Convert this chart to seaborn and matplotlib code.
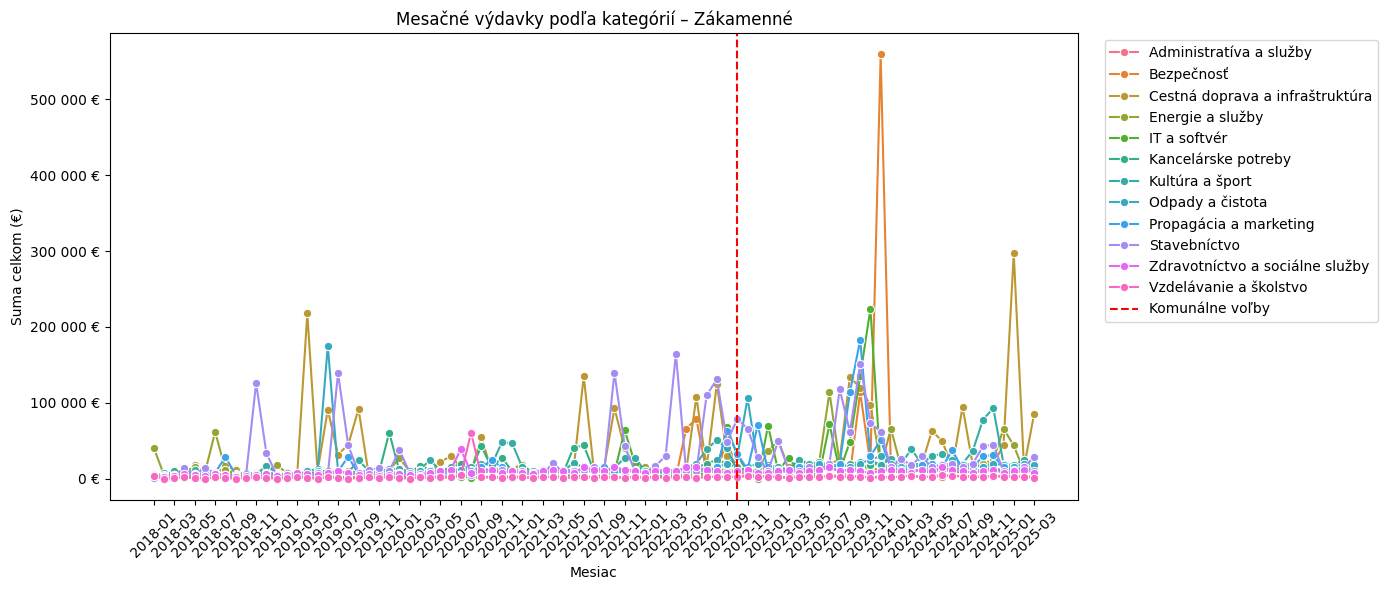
import pandas as pd
import numpy as np
import seaborn as sns
import matplotlib
matplotlib.use("Agg")
import matplotlib.pyplot as plt
from matplotlib.ticker import FuncFormatter

# mesiace 2018-01 .. 2025-03
months = [f"{y}-{m:02d}" for y in range(2018, 2026) for m in range(1, 13)][:87]
election_month = "2022-10"

categories = [
    "Administratíva a služby",
    "Bezpečnosť",
    "Cestná doprava a infraštruktúra",
    "Energie a služby",
    "IT a softvér",
    "Kancelárske potreby",
    "Kultúra a šport",
    "Odpady a čistota",
    "Propagácia a marketing",
    "Stavebníctvo",
    "Zdravotníctvo a sociálne služby",
    "Vzdelávanie a školstvo",
]

# hodnoty v tisícoch €
admin = [2, 1, 3, 2, 1, 2, 3, 1, 2, 1, 2, 3,
         2, 1, 2, 3, 1, 2, 2, 1, 3, 2, 1, 2,
         1, 2, 3, 2, 1, 2, 4, 3, 2, 1, 2, 3,
         2, 1, 2, 3, 2, 1, 2, 3, 2, 1, 2, 3,
         2, 3, 2, 1, 2, 3, 4, 2, 3, 2, 3, 4,
         3, 2, 2, 3, 4, 3, 2, 3, 4, 3, 2, 3,
         2, 3, 4, 3, 2, 3, 4, 3, 2, 3, 4, 2,
         3, 2, 3]
bezpecnost = [1, 2, 1, 3, 2, 1, 2, 5, 13, 2, 1, 2,
              1, 2, 3, 1, 2, 4, 2, 1, 3, 2, 1, 2,
              2, 1, 3, 2, 1, 2, 3, 2, 1, 3, 2, 4,
              2, 1, 2, 3, 2, 1, 2, 2, 3, 1, 2, 3,
              2, 1, 3, 2, 66, 79, 8, 10, 50, 12, 4, 3,
              2, 3, 2, 4, 3, 2, 3, 5, 6, 114, 20, 559,
              15, 5, 3, 4, 2, 3, 5, 3, 4, 2, 3, 4,
              3, 5, 2]
cestna = [3, 2, 5, 4, 18, 6, 5, 17, 12, 3, 4, 6,
          8, 5, 3, 218, 10, 91, 32, 45, 92, 5, 4, 8,
          10, 6, 5, 8, 22, 30, 15, 10, 55, 10, 8, 12,
          20, 6, 5, 8, 10, 12, 135, 10, 15, 93, 40, 15,
          12, 15, 5, 8, 10, 108, 15, 125, 30, 15, 8, 10,
          10, 15, 12, 20, 20, 18, 20, 25, 134, 120, 97, 20,
          15, 20, 15, 18, 63, 50, 15, 95, 18, 20, 20, 44,
          297, 15, 86]
energie = [41, 5, 8, 10, 15, 8, 62, 12, 5, 5, 8, 10,
           18, 8, 5, 5, 8, 10, 8, 10, 8, 5, 10, 12,
           27, 10, 8, 12, 10, 15, 10, 8, 12, 10, 15, 12,
           18, 8, 10, 6, 8, 10, 12, 8, 10, 15, 12, 10,
           16, 10, 8, 12, 10, 8, 12, 15, 10, 12, 8, 10,
           37, 50, 15, 10, 12, 22, 114, 20, 15, 20, 10, 15,
           66, 15, 18, 20, 20, 15, 18, 20, 15, 20, 25, 66,
           44, 10, 20]
it_soft = [1, 2, 1, 2, 3, 1, 2, 1, 2, 3, 1, 2,
           2, 1, 3, 2, 1, 2, 3, 2, 1, 2, 3, 1,
           2, 3, 1, 2, 4, 2, 3, 1, 2, 3, 2, 1,
           2, 1, 3, 2, 4, 5, 3, 2, 6, 8, 64, 20,
           10, 5, 3, 4, 6, 5, 8, 10, 68, 30, 10, 0,
           70, 10, 28, 10, 8, 5, 72, 10, 49, 135, 224, 15,
           10, 8, 12, 10, 8, 12, 10, 8, 10, 12, 15, 10,
           8, 10, 12]
kancelarske = [3, 5, 10, 6, 8, 5, 7, 4, 6, 5, 8, 6,
               5, 7, 6, 8, 5, 6, 8, 7, 9, 6, 8, 61,
               10, 8, 17, 12, 10, 15, 20, 12, 43, 15, 28, 10,
               12, 8, 6, 10, 8, 41, 44, 10, 12, 15, 10, 12,
               8, 10, 6, 8, 12, 15, 20, 25, 20, 15, 10, 12,
               15, 10, 12, 18, 15, 12, 15, 10, 12, 15, 18, 20,
               12, 15, 10, 12, 15, 10, 12, 15, 18, 15, 12, 10,
               12, 15, 10]
kultura = [2, 8, 5, 6, 12, 8, 6, 5, 4, 8, 6, 17,
           8, 5, 6, 10, 13, 8, 10, 8, 25, 10, 8, 13,
           13, 10, 12, 25, 10, 8, 12, 15, 20, 18, 48, 47,
           15, 10, 8, 12, 10, 21, 15, 12, 10, 14, 28, 28,
           10, 8, 12, 10, 15, 20, 39, 51, 40, 10, 15, 20,
           18, 15, 12, 25, 20, 22, 18, 15, 20, 22, 25, 18,
           26, 20, 39, 20, 30, 33, 25, 20, 37, 78, 93, 20,
           18, 25, 20]
odpady = [3, 5, 4, 6, 5, 8, 6, 5, 4, 6, 5, 8,
          6, 5, 8, 6, 10, 175, 10, 8, 6, 8, 5, 6,
          8, 6, 10, 8, 12, 10, 8, 12, 15, 10, 12, 8,
          10, 8, 12, 10, 8, 12, 10, 15, 12, 10, 8, 12,
          10, 12, 8, 10, 15, 12, 10, 15, 20, 30, 106, 20,
          15, 12, 10, 15, 12, 20, 15, 20, 15, 20, 25, 30,
          20, 15, 18, 20, 15, 20, 15, 18, 20, 15, 20, 18,
          15, 20, 18]
propagacia = [2, 4, 3, 5, 6, 4, 8, 29, 5, 3, 4, 6,
              5, 4, 6, 5, 8, 6, 10, 29, 6, 5, 8, 6,
              8, 6, 5, 10, 8, 6, 12, 10, 15, 25, 15, 10,
              8, 6, 10, 8, 12, 10, 8, 12, 15, 10, 12, 8,
              10, 8, 12, 10, 15, 12, 10, 15, 63, 33, 12, 71,
              10, 12, 8, 15, 10, 12, 15, 20, 114, 183, 30, 51,
              15, 12, 15, 18, 20, 15, 38, 12, 15, 30, 31, 15,
              12, 15, 10]
stavebnictvo = [1, 3, 5, 14, 6, 14, 8, 5, 4, 3, 126, 34,
                5, 3, 6, 4, 8, 5, 139, 44, 8, 12, 14, 10,
                38, 8, 6, 5, 10, 8, 6, 5, 8, 10, 12, 8,
                10, 8, 6, 21, 8, 10, 12, 15, 10, 140, 43, 10,
                8, 17, 30, 165, 10, 10, 110, 131, 49, 79, 66, 29,
                10, 50, 12, 10, 15, 12, 20, 118, 62, 151, 74, 62,
                15, 26, 18, 30, 15, 18, 20, 15, 20, 43, 45, 10,
                5, 15, 29]
zdravotnictvo = [5, 3, 4, 6, 5, 4, 6, 5, 3, 4, 5, 6,
                 4, 5, 8, 6, 5, 8, 10, 8, 5, 6, 4, 5,
                 6, 5, 4, 8, 10, 12, 39, 8, 10, 12, 8, 10,
                 8, 6, 10, 12, 10, 8, 15, 12, 10, 15, 12, 10,
                 8, 10, 12, 10, 15, 15, 12, 10, 8, 10, 12, 8,
                 8, 10, 12, 8, 10, 12, 15, 10, 12, 10, 8, 10,
                 12, 10, 8, 12, 10, 15, 12, 10, 8, 10, 12, 8,
                 10, 12, 8]
vzdelavanie = [4, 0, 1, 2, 1, 0, 2, 1, 0, 1, 2, 1,
               0, 1, 2, 1, 0, 2, 1, 0, 1, 2, 1, 3,
               1, 0, 2, 1, 3, 2, 5, 61, 3, 2, 1, 3,
               2, 1, 3, 2, 1, 2, 3, 1, 2, 3, 1, 2,
               1, 2, 1, 3, 2, 1, 2, 3, 2, 3, 4, 2,
               3, 2, 1, 2, 3, 2, 4, 3, 2, 3, 1, 2,
               2, 3, 4, 2, 3, 5, 4, 3, 2, 3, 4, 3,
               2, 3, 1]

series = [admin, bezpecnost, cestna, energie, it_soft, kancelarske,
          kultura, odpady, propagacia, stavebnictvo, zdravotnictvo, vzdelavanie]

rows = []
for cat, vals in zip(categories, series):
    for m, v in zip(months, vals):
        rows.append({"mesiac": m, "kategoria": cat, "suma": v * 1000})
df = pd.DataFrame(rows)

fig, ax = plt.subplots(figsize=(13.87, 5.9), dpi=100)
sns.lineplot(data=df, x="mesiac", y="suma", hue="kategoria", hue_order=categories,
             palette=sns.color_palette("husl", len(categories)), marker="o", ax=ax)

ax.axvline(months.index(election_month), color="red", linestyle="--", label="Komunálne voľby")

ax.set_title("Mesačné výdavky podľa kategórií – Zákamenné")
ax.set_xlabel("Mesiac")
ax.set_ylabel("Suma celkom (€)")
ax.yaxis.set_major_formatter(FuncFormatter(lambda v, p: f"{v:,.0f} €".replace(",", " ")))
ax.set_xticks(range(0, len(months), 2))
ax.set_xticklabels(months[::2], rotation=45)
ax.legend(bbox_to_anchor=(1.02, 1), loc="upper left")

plt.subplots_adjust(left=0.0791, right=0.7774, top=0.9436, bottom=0.1525)
plt.savefig("out.png")
